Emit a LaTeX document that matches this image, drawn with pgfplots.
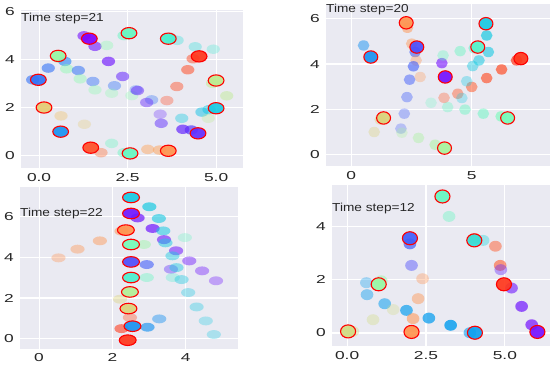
\documentclass[border=0pt]{standalone}
\usepackage{pgfplots}
\pgfplotsset{compat=1.18}
\usepackage{fontspec}
\setmainfont{Liberation Sans}
\definecolor{sbbg}{HTML}{EAEAF2}
\definecolor{sbtext}{gray}{0.15}
\newcommand\tickfont{\fontsize{11.6}{13}\selectfont}
\def\mkx{7}\def\mky{5}\def\ptalpha{0.5}
\pgfdeclareplotmark{ellf}{\pgfsetfillopacity{\ptalpha}\pgfpathellipse{\pgfpointorigin}{\pgfpoint{0.95*\mkx pt}{0pt}}{\pgfpoint{0pt}{0.95*\mky pt}}\pgfusepathqfill}
\pgfdeclareplotmark{ells}{\pgfsetfillopacity{0.92}\pgfpathellipse{\pgfpointorigin}{\pgfpoint{1.13*\mkx pt}{0pt}}{\pgfpoint{0pt}{1.13*\mky pt}}\pgfusepathqfillstroke}
\tikzset{ts/.style={anchor=west, inner sep=0pt, font=\tickfont, text=sbtext, xscale=1.18}}
\pgfplotsset{
  colormap={rainbow}{rgb=(0.5,0,1) rgb=(0.25,0.383,0.981) rgb=(0,0.707,0.924) rgb=(0.25,0.924,0.831) rgb=(0.5,1,0.707) rgb=(0.75,0.924,0.556) rgb=(1,0.707,0.383) rgb=(1,0.383,0.195) rgb=(1,0,0)},
  sb/.style={scale only axis, anchor=south west,
    axis background/.style={fill=sbbg},
    axis line style={draw=none}, major tick length=0pt, tick style={draw=none},
    grid=major, grid style={white, line width=1.1bp},
    xticklabel style={font=\tickfont, text=sbtext, inner sep=0pt, anchor=north, yshift=-5bp, xscale=1.5},
    yticklabel style={font=\tickfont, text=sbtext, inner sep=0pt, anchor=east, xshift=-6bp, xscale=1.5},
    point meta min=0, point meta max=1,
    /pgf/number format/assume math mode=true},
  faded/.style={scatter, only marks, mark=ellf, point meta=\thisrow{c},
    visualization depends on={\thisrow{a}\as\ptalpha}},
  hi/.style={scatter, only marks, mark=ells, point meta=\thisrow{c},
    scatter/use mapped color={draw=red, fill=mapped color},
    mark options={line width=1.1bp}}
}
\begin{document}
\begin{tikzpicture}[x=1bp,y=1bp]
\useasboundingbox (0,0) rectangle (550,364);
% ---------------- Subplot 1 ----------------
\def\mkx{7}\def\mky{5}
\begin{axis}[sb, at={(21bp,196bp)}, width=222bp, height=158bp,
  xmin=-0.51, xmax=5.76, ymin=-0.54, ymax=6.07,
  xtick={0,2.5,5}, xticklabels={0.0,2.5,5.0},
  ytick={0,2,4,6}, yticklabels={0,2,4,6}]
\addplot[faded] table {
x y c a
1.27 4.99 0.02 0.6
1.58 4.55 0.03 0.6
2.40 5.00 0.45 0.5
3.70 4.92 0.40 0.5
3.90 4.80 0.35 0.35
4.35 4.03 0.90 0.5
4.90 3.00 0.62 0.5
-0.18 3.15 0.15 0.6
4.80 1.90 0.30 0.5
4.60 1.80 0.28 0.5
4.30 1.05 0.08 0.7
4.06 1.08 0.05 0.7
1.75 0.10 0.85 0.4
3.40 0.21 0.78 0.5
2.40 0.10 0.45 0.45
0.55 4.05 0.55 0.4
1.91 4.59 0.52 0.35
4.41 4.53 0.35 0.35
4.92 4.43 0.38 0.3
1.96 3.92 0.03 0.65
0.73 3.92 0.18 0.6
0.26 3.64 0.15 0.6
0.78 3.61 0.52 0.45
1.11 3.54 0.15 0.55
1.16 3.19 0.52 0.4
1.52 3.08 0.15 0.45
1.58 2.73 0.52 0.35
2.13 2.90 0.15 0.4
2.36 3.29 0.05 0.55
2.05 2.59 0.52 0.3
2.62 2.49 0.52 0.3
2.74 2.73 0.15 0.3
2.78 2.70 0.05 0.5
3.18 2.31 0.15 0.35
3.04 2.20 0.05 0.45
3.42 1.71 0.05 0.3
3.45 1.33 0.06 0.5
3.61 2.28 0.90 0.35
3.89 2.87 0.90 0.45
4.20 3.57 0.90 0.55
4.03 1.54 0.30 0.4
5.30 2.48 0.62 0.45
4.78 1.54 0.62 0.3
0.62 1.64 0.72 0.4
1.28 1.29 0.70 0.3
2.05 0.49 0.45 0.35
3.07 0.24 0.78 0.45
};
\addplot[hi] table {
x y c
1.42 4.87 0.00
2.54 5.10 0.45
3.65 4.87 0.40
4.52 4.13 0.93
0.54 4.15 0.55
-0.02 3.15 0.15
5.00 3.12 0.62
0.14 1.99 0.70
5.00 1.96 0.30
0.61 0.98 0.20
4.49 0.91 0.06
1.46 0.31 0.90
2.57 0.07 0.45
3.65 0.18 0.80
};
\node[ts] at (rel axis cs:0,0.943) {Time step=21};
\end{axis}
% ---------------- Subplot 2 ----------------
\def\mkx{6.2}\def\mky{5.5}
\begin{axis}[sb, at={(326bp,198bp)}, width=224bp, height=162bp,
  xmin=-1.05, xmax=8.25, ymin=-0.5, ymax=6.65,
  xtick={0,5}, xticklabels={0,5},
  ytick={0,2,4,6}, yticklabels={0,2,4,6}]
\addplot[faded] table {
x y c a
2.33 5.60 0.80 0.5
5.62 5.26 0.30 0.7
5.69 4.53 0.30 0.6
2.51 4.90 0.80 0.45
2.65 4.53 0.12 0.6
5.10 4.70 0.42 0.5
0.51 4.82 0.20 0.5
6.86 4.16 0.93 0.7
3.76 4.04 0.02 0.6
1.20 1.55 0.68 0.45
6.22 1.69 0.48 0.6
3.81 4.38 0.45 0.35
4.52 4.57 0.45 0.45
5.04 3.91 0.30 0.45
5.30 4.16 0.30 0.55
2.69 4.16 0.80 0.35
2.58 3.90 0.12 0.6
2.86 3.43 0.80 0.3
2.42 3.31 0.12 0.5
2.31 2.54 0.12 0.4
2.20 1.81 0.12 0.35
2.06 1.15 0.12 0.3
2.10 0.97 0.58 0.3
0.95 1.00 0.68 0.35
2.79 0.74 0.58 0.4
3.48 0.44 0.58 0.5
3.31 2.29 0.45 0.25
4.00 2.10 0.45 0.35
4.72 1.99 0.45 0.45
5.48 1.81 0.45 0.5
3.85 2.51 0.88 0.35
4.42 2.69 0.88 0.45
5.00 2.99 0.88 0.55
5.62 3.38 0.90 0.65
6.24 3.76 0.90 0.7
4.79 3.24 0.30 0.35
4.59 2.50 0.30 0.3
};
\addplot[hi] table {
x y c
2.28 5.82 0.80
5.59 5.78 0.30
2.72 4.75 0.10
5.25 4.75 0.42
0.81 4.31 0.20
7.04 4.24 0.93
3.90 3.43 0.02
1.34 1.62 0.68
6.49 1.62 0.48
3.87 0.29 0.58
};
\node[ts] at (rel axis cs:0,0.963) {Time step=20};
\end{axis}
% ---------------- Subplot 3 ----------------
\def\mkx{7.5}\def\mky{4.7}
\begin{axis}[sb, at={(20bp,15.3bp)}, width=218bp, height=162bp,
  xmin=-0.52, xmax=5.43, ymin=-0.5, ymax=7.49,
  xtick={0,2,4}, xticklabels={0,2,4},
  ytick={0,2,4,6}, yticklabels={0,2,4,6}]
\addplot[faded] table {
x y c a
2.69 5.95 0.03 0.7
2.25 5.30 0.80 0.5
3.01 6.50 0.30 0.7
3.27 5.92 0.30 0.6
3.10 5.43 0.03 0.7
3.39 5.31 0.30 0.55
3.41 4.88 0.03 0.6
3.45 4.72 0.30 0.5
3.74 4.33 0.03 0.55
3.64 4.08 0.30 0.45
4.10 3.83 0.03 0.45
4.45 3.34 0.03 0.4
4.83 2.85 0.03 0.35
3.98 4.98 0.45 0.3
2.86 4.64 0.55 0.45
2.94 3.65 0.12 0.6
3.60 3.42 0.06 0.4
3.75 3.50 0.30 0.45
3.65 3.01 0.40 0.3
3.89 2.91 0.30 0.4
2.94 3.01 0.45 0.4
4.07 2.27 0.30 0.35
4.30 1.56 0.30 0.35
4.55 0.87 0.30 0.3
4.77 0.20 0.30 0.3
3.28 0.97 0.20 0.45
2.96 0.56 0.20 0.65
2.48 1.04 0.88 0.4
2.25 0.49 0.92 0.6
2.21 1.94 0.68 0.4
0.53 3.98 0.80 0.35
1.05 4.41 0.80 0.4
1.66 4.82 0.80 0.45
};
\addplot[hi] table {
x y c
2.51 6.96 0.30
2.51 6.17 0.03
2.37 5.35 0.80
2.51 4.64 0.48
2.51 3.78 0.10
2.51 3.01 0.40
2.48 2.30 0.60
2.44 1.48 0.68
2.55 0.61 0.20
2.42 -0.08 0.93
};
\node[ts] at (rel axis cs:0,0.835) {Time step=22};
\end{axis}
% ---------------- Subplot 4 ----------------
\def\mkx{6.7}\def\mky{5.8}
\begin{axis}[sb, at={(332bp,17.7bp)}, width=218bp, height=161bp,
  xmin=-0.48, xmax=6.43, ymin=-0.5, ymax=5.55,
  xtick={0,2.5,5}, xticklabels={0.0,2.5,5.0},
  ytick={0,2,4}, yticklabels={0,2,4}]
\addplot[faded] table {
x y c a
3.23 4.38 0.45 0.4
1.99 3.35 0.12 0.7
2.04 2.54 0.10 0.45
4.04 3.55 0.88 0.5
4.31 3.48 0.33 0.4
1.08 1.96 0.55 0.5
0.18 0.06 0.66 0.4
3.89 0.01 0.22 0.6
5.85 0.31 0.02 0.7
4.70 3.26 0.88 0.5
4.85 2.54 0.88 0.6
4.87 2.38 0.05 0.4
5.21 1.69 0.03 0.6
5.53 1.00 0.03 0.7
0.61 1.89 0.22 0.35
0.63 1.44 0.22 0.45
1.19 1.10 0.22 0.55
1.46 0.88 0.66 0.3
0.82 0.50 0.66 0.35
1.88 0.85 0.22 0.7
2.39 2.04 0.80 0.35
2.25 1.29 0.80 0.45
2.09 0.54 0.80 0.55
2.59 0.56 0.22 0.75
3.28 0.29 0.22 0.85
};
\addplot[hi] table {
x y c
3.02 5.13 0.45
1.99 3.56 0.12
4.03 3.48 0.35
1.00 1.83 0.55
4.97 1.83 0.93
0.03 0.06 0.66
2.04 0.04 0.80
4.05 0.01 0.22
6.03 0.04 0.02
};
\node[ts] at (rel axis cs:0,0.853) {Time step=12};
\end{axis}
\end{tikzpicture}
\end{document}
